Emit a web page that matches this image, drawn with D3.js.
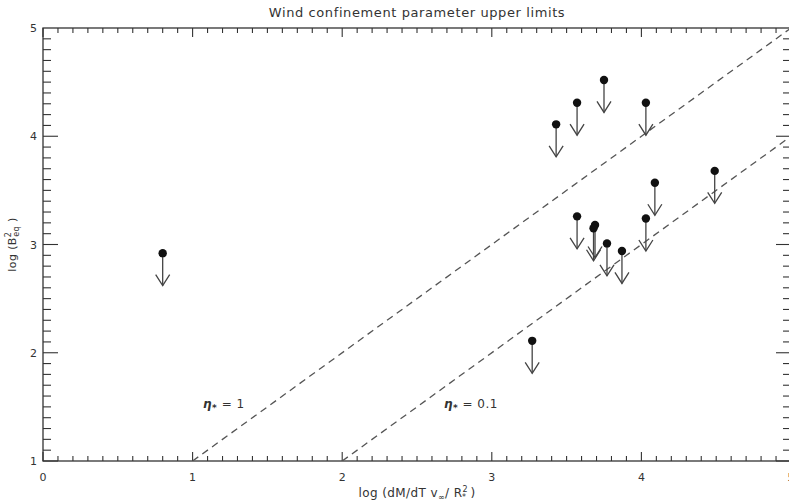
<!DOCTYPE html>
<html lang="en">
<head>
    <meta charset="UTF-8">
    <title>Wind confinement parameter upper limits</title>
    <script src="https://cdnjs.cloudflare.com/ajax/libs/d3/7.8.5/d3.min.js"></script>
    <style>
        * { margin: 0; padding: 0; box-sizing: border-box; }
        body { background: white; overflow: hidden; }
        svg { display: block; font-family: 'DejaVu Sans', sans-serif; }
    </style>
</head>
<body>
    <div id="chart"></div>

    <script>
        // upper limit points: log(dM/dT v_inf / R*^2) vs log(B_eq^2)
        const logMdot = [0.80, 3.27, 3.43, 3.57, 3.75, 4.03, 4.49, 3.57, 3.69, 3.68, 3.77, 3.87, 4.03, 4.09];
        const logB2   = [2.92, 2.11, 4.11, 4.31, 4.52, 4.31, 3.68, 3.26, 3.18, 3.15, 3.01, 2.94, 3.24, 3.57];

        // eta* lines: log B^2 = x + log eta
        const etaValues = [1, 0.1];
        const etaLabels = ['1', '0.1'];
        const etaLabelPos = [[1.07, 1.49], [2.68, 1.49]];

        const xTicks = [0, 1, 2, 3, 4, 5];
        const yTicks = [1, 2, 3, 4, 5];

        const width = 789, height = 502;
        const margin = { top: 28, right: -2, bottom: 41, left: 43 };

        const svg = d3.select('#chart').append('svg')
            .attr('width', width)
            .attr('height', height);

        const x = d3.scaleLinear().domain([0, 5]).range([margin.left, width - margin.right]);
        const y = d3.scaleLinear().domain([1, 5]).range([height - margin.bottom, margin.top]);

        const ink = '#333';

        // frame
        svg.append('rect')
            .attr('x', x(0)).attr('y', y(5))
            .attr('width', x(5) - x(0)).attr('height', y(1) - y(5))
            .attr('fill', 'none').attr('stroke', ink).attr('stroke-width', 1.3);

        // ticks (IDL style, pointing inward)
        const xMinor = d3.range(0, 50).map(i => i / 10);
        const yMinor = d3.range(10, 50).map(i => i / 10);
        const tickG = svg.append('g').attr('stroke', ink).attr('stroke-width', 1.1);

        xMinor.forEach(v => {
            const len = Math.abs(v - Math.round(v)) < 1e-6 ? 9 : 5;
            tickG.append('line').attr('x1', x(v)).attr('x2', x(v))
                .attr('y1', y(1)).attr('y2', y(1) - len);
            tickG.append('line').attr('x1', x(v)).attr('x2', x(v))
                .attr('y1', y(5)).attr('y2', y(5) + len);
        });
        yMinor.forEach(v => {
            const len = Math.abs(v - Math.round(v)) < 1e-6 ? 15 : 8;
            tickG.append('line').attr('x1', x(0)).attr('x2', x(0) + len)
                .attr('y1', y(v)).attr('y2', y(v));
            tickG.append('line').attr('x1', x(5)).attr('x2', x(5) - len)
                .attr('y1', y(v)).attr('y2', y(v));
        });

        // tick labels
        svg.append('g').selectAll('text').data(xTicks).enter().append('text')
            .attr('x', d => x(d)).attr('y', y(1) + 20)
            .attr('text-anchor', 'middle')
            .attr('font-size', 11).attr('fill', ink)
            .text(d => d);
        svg.append('g').selectAll('text').data(yTicks).enter().append('text')
            .attr('x', x(0) - 6).attr('y', d => y(d) + 4)
            .attr('text-anchor', 'end')
            .attr('font-size', 11).attr('fill', ink)
            .text(d => d);

        // title
        svg.append('text')
            .attr('x', (x(0) + x(5)) / 2).attr('y', 17)
            .attr('text-anchor', 'middle')
            .attr('font-size', 13).attr('letter-spacing', 0.6).attr('fill', ink)
            .text('Wind confinement parameter upper limits');

        // x label
        const xl = svg.append('text')
            .attr('x', (x(0) + x(5)) / 2).attr('y', 497)
            .attr('text-anchor', 'middle')
            .attr('font-size', 12).attr('letter-spacing', 0.4).attr('fill', ink);
        xl.append('tspan').text('log (dM/dT v');
        xl.append('tspan').attr('font-size', 8).attr('dy', 3).text('\u221e');
        xl.append('tspan').attr('dy', -3).text('/ R');
        xl.append('tspan').attr('font-size', 8).attr('dy', -5).text('2');
        xl.append('tspan').attr('font-size', 8).attr('dy', 8).attr('dx', -6).text('*');
        xl.append('tspan').attr('dy', -3).text(' )');

        // y label
        const yl = svg.append('text')
            .attr('transform', `translate(16, ${(y(1) + y(5)) / 2}) rotate(-90)`)
            .attr('text-anchor', 'middle')
            .attr('font-size', 11).attr('letter-spacing', 0.4).attr('fill', ink);
        yl.append('tspan').text('log (B');
        yl.append('tspan').attr('font-size', 8).attr('dy', -5).text('2');
        yl.append('tspan').attr('font-size', 8).attr('dy', 8).attr('dx', -5).text('eq');
        yl.append('tspan').attr('dy', -3).text(' )');

        // eta lines, clipped to the plot box
        svg.append('clipPath').attr('id', 'plotclip').append('rect')
            .attr('x', x(0)).attr('y', y(5))
            .attr('width', x(5) - x(0)).attr('height', y(1) - y(5));

        const lineG = svg.append('g').attr('clip-path', 'url(#plotclip)');
        etaValues.forEach(eta => {
            const c = Math.log10(eta);
            lineG.append('line')
                .attr('x1', x(1 - c)).attr('y1', y(1))
                .attr('x2', x(5)).attr('y2', y(5 + c))
                .attr('stroke', '#555').attr('stroke-width', 1.3)
                .attr('stroke-dasharray', '7,5');
        });

        // eta labels
        etaLabels.forEach((lab, i) => {
            const t = svg.append('text')
                .attr('x', x(etaLabelPos[i][0])).attr('y', y(etaLabelPos[i][1]))
                .attr('font-size', 12).attr('letter-spacing', 0.5).attr('fill', ink);
            t.append('tspan').attr('font-style', 'italic').attr('font-weight', 'bold').text('\u03b7');
            t.append('tspan').attr('font-size', 9).attr('dy', 3).attr('font-weight', 'bold').text('*');
            t.append('tspan').attr('dy', -3).text(' = ' + lab);
        });

        // upper-limit arrows
        const arrowLen = 0.3;
        const pts = logMdot.map((v, i) => ({ x: v, y: logB2[i] }));
        const arrowG = svg.append('g').attr('stroke', '#444').attr('stroke-width', 1.3).attr('fill', 'none');
        pts.forEach(d => {
            const px = x(d.x), top = y(d.y), tip = y(d.y - arrowLen);
            arrowG.append('line').attr('x1', px).attr('x2', px).attr('y1', top).attr('y2', tip);
            arrowG.append('path')
                .attr('d', `M${px - 7},${tip - 11} L${px},${tip} L${px + 7},${tip - 11}`);
        });

        svg.append('g').selectAll('circle').data(pts).enter().append('circle')
            .attr('cx', d => x(d.x)).attr('cy', d => y(d.y))
            .attr('r', 4.2).attr('fill', '#111');
    </script>
</body>
</html>
